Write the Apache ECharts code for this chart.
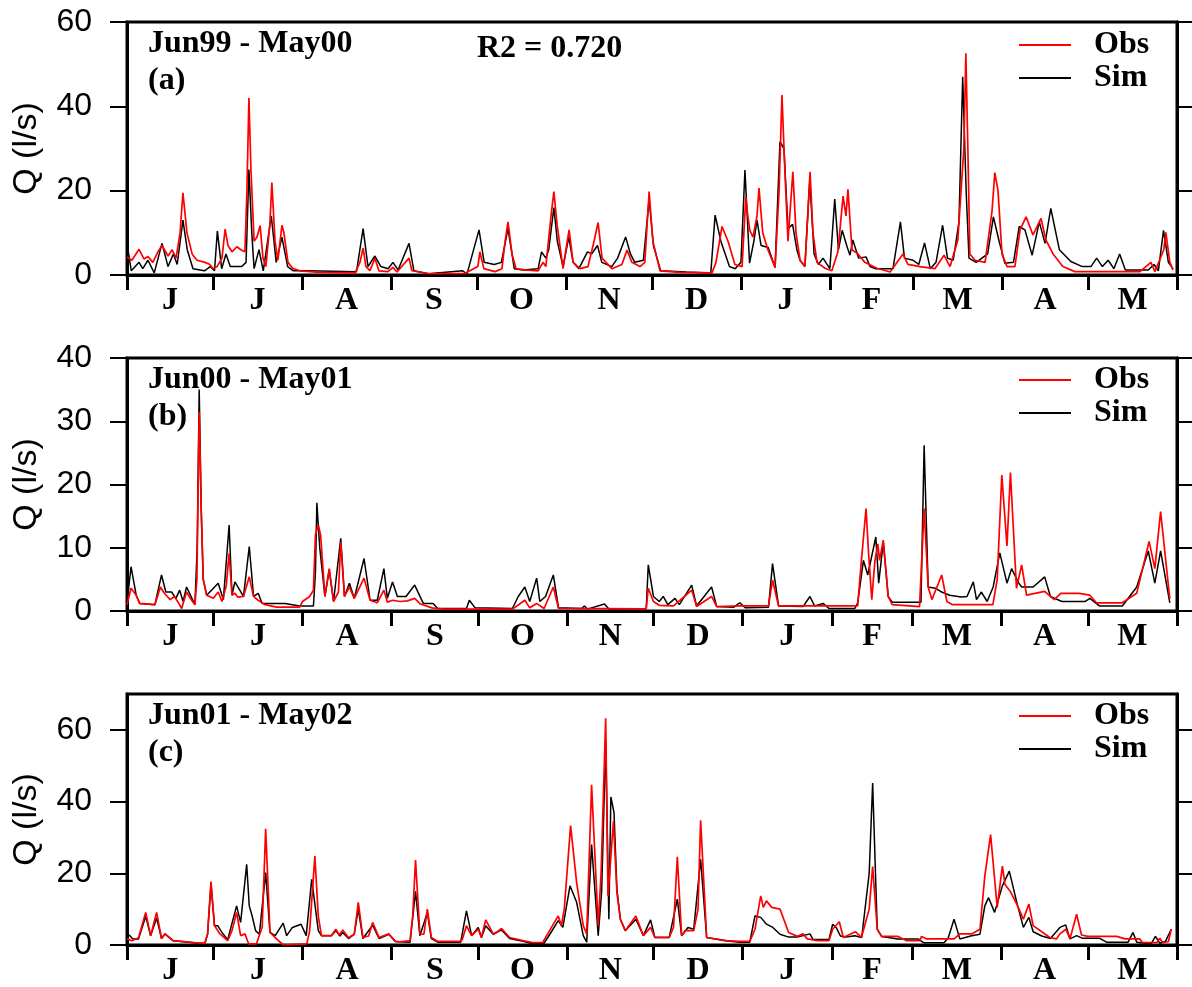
<!DOCTYPE html>
<html lang="en">
<head>
<meta charset="UTF-8">
<title>Q obs / sim</title>
<script src="https://cdn.jsdelivr.net/npm/echarts@6/dist/echarts.min.js"></script>
<style>
  html, body { margin: 0; padding: 0; background: #fff; }
  #main { width: 1192px; height: 987px; }
</style>
</head>
<body>
<div id="main"></div>
<script>
// month letters and month lengths (Jun..May)
var monthLetters = ['J', 'J', 'A', 'S', 'O', 'N', 'D', 'J', 'F', 'M', 'A', 'M'];
var monthDaysA = [30, 31, 31, 30, 31, 30, 31, 31, 29, 31, 30, 31];
var monthDaysBC = [30, 31, 31, 30, 31, 30, 31, 31, 28, 31, 30, 31];
var yTicksA = [0, 20, 40, 60];
var yTicksB = [0, 10, 20, 30, 40];
var yTicksC = [0, 20, 40, 60];

// daily discharge, [day, Q l/s]
var obsA = [[0,4.3],[1.7,3.5],[4.2,6.1],[5.9,3.8],[7.3,4.4],[9,3],[10.8,5.5],[12.2,7],[14.3,4.5],[15.7,6],[17.1,4],[18.5,10],[19.5,19.5],[20.9,10],[22.7,5],[24.4,3.5],[27.2,3],[28.9,2.5],[30,1.5],[31.4,2],[33.1,4],[34.2,10.9],[35.2,7],[36.6,5.5],[38.3,6.7],[39.7,6],[41.1,5.5],[41.8,20],[42.5,42],[43.2,25],[44.3,8],[45.3,9],[46.4,11.7],[47.4,4],[48.4,2],[49.8,12],[50.5,21.9],[51.6,8],[52.6,3.5],[54,11.8],[54.7,10],[56.1,3],[57.9,1.5],[60.3,1],[67.3,0.6],[79.5,0.5],[81.2,3],[82.3,6.4],[83.3,2],[84.7,1],[86.4,4],[87.8,1],[91,0.8],[92.7,1.8],[94.1,0.7],[98.3,4],[99.3,1],[105.6,0.3],[117.8,0.4],[122.3,2],[123,5.5],[124.4,1.5],[128.3,0.8],[130.7,1.5],[131.8,8],[132.8,12.6],[134.2,5],[135.6,1.5],[138.7,1.2],[143.3,1],[145,3],[146,2],[147.8,14],[148.8,19.8],[149.9,12],[152,1.5],[153,6],[154.1,10.7],[155.5,3],[157.9,1.5],[160.7,2],[162.8,8],[164.2,12.4],[165.6,4],[169,1.5],[172.5,2.5],[174.3,5.9],[176,3],[178.8,2],[180.5,3],[182,19.8],[183.3,8],[185.8,1],[192.7,0.6],[203.9,0.5],[205.3,3],[207.4,11.5],[209.5,8],[211.9,2.5],[214.4,2],[215.7,18.6],[216.4,14],[217.1,10.6],[218.2,9],[219.6,14],[220.3,20.6],[221.6,10],[223.4,6],[225.9,1.8],[227.3,20],[228.3,42.7],[229.3,25],[230.4,8],[232.1,24.5],[233.2,10],[234.6,3.5],[236.3,2],[238.1,24.5],[239.1,10],[240.5,3],[243.3,1.6],[245.7,1],[247.8,5.5],[249.6,18.7],[250.6,14],[251.3,20.3],[252.7,6],[254.8,5],[257.2,3],[261.4,1.6],[266,0.7],[270.5,5],[272.2,2.5],[276.4,2],[281.6,1.5],[284.8,4.7],[286.9,2],[289.6,8.3],[291.7,30],[292.4,52.6],[293.1,30],[293.8,5],[295.6,3.5],[299.1,3],[301.5,15],[302.5,24.3],[303.6,20],[305,5],[306.7,2],[309.5,2],[311.3,10.7],[313.4,13.8],[315.8,9.5],[318.6,13.4],[320.3,8.3],[322.8,5],[326.2,2],[330.4,0.8],[353.1,0.8],[356.9,3],[358.3,0.8],[361.4,6],[362.1,10.1],[363.5,3],[364.6,1.2]];
var simA = [[0,7.5],[1.5,1],[4.2,3],[5.5,1.5],[7.3,3.5],[9.5,0.5],[12.2,7.5],[14.3,2],[16.2,5],[17.5,2.5],[19.5,13],[21,6],[23,1.5],[27,1],[29,2],[30.5,1],[31.5,10.4],[33,1.5],[34.5,5],[36,2],[40,2],[41.5,3],[42.5,25],[43.5,10],[44.3,1.5],[46,6],[47.5,1],[50.3,14],[52,3],[54,9],[56,2],[58,1],[63,1],[80,0.8],[82.3,11],[84,2],[86.4,4.5],[88.5,2],[91,1.5],[92.7,3],[94.5,1.2],[98.3,7.5],[100,1],[105,0.3],[117,1],[118.5,0.2],[122.7,10.7],[124.5,3],[128,2.5],[130.5,3],[132.8,11],[135,1.5],[138,1.2],[143.3,1.5],[144.5,5.5],[146,4],[147,6],[148.8,16],[150,8],[152,2],[154,9],[155.5,3],[157.5,1.5],[160.5,5.5],[162,5],[164,7],[165.5,3],[169,2],[171,4],[173.8,9],[175.5,5],[177,3],[180,3.5],[182,18],[183.5,7],[186,1],[195,0.7],[203.5,0.5],[205,14.2],[207,8],[210,2],[212,1.5],[214,3],[215.4,24.9],[217,2.8],[218.5,8],[219.6,13],[221,7],[223.5,6.5],[225.9,1.8],[227.6,31.6],[229,30],[230.4,11],[232,12],[233.5,6],[234.6,3.5],[236.3,2],[238,22.5],[239.5,5],[241,2.5],[242.6,4],[245,1.5],[246.7,18],[248,6],[249.3,10.6],[251,6.7],[252,4.7],[253,8.3],[255,4],[257.6,4.3],[259,2],[261,1.5],[267,1.5],[269.6,12.6],[271,4],[274,3.5],[276,2.5],[278,7.6],[280,1.5],[282,3],[284.3,11.8],[286,4],[288,3.5],[290,12.6],[291.3,47],[292.5,20],[293.5,4],[296,3],[300,5],[302,13.8],[304,8],[306,2.8],[309,3],[311,11.5],[313,10.7],[315.5,4.7],[318,12.6],[320,7.5],[322,15.8],[325,6],[329,3.2],[333,2],[336,2],[338,4],[340,2],[342,3.5],[344,1.5],[346,5],[348,1.2],[356,1.2],[358,2.5],[359.5,1],[361.3,10.6],[363,3],[364.6,1.5]];

var obsB = [[0,1],[1.4,3.6],[3.2,2.5],[4.4,1.2],[9.7,1],[11.6,3.8],[13,2.8],[15,1.8],[16.5,2.3],[18,1.2],[19,0.4],[20.7,3],[22,2],[23.6,1],[24.3,5],[25.1,31.5],[25.8,16],[26.5,5],[27.7,2.5],[30,2],[31.7,3],[33,1.5],[34.5,4],[35.5,9.1],[36.5,2.5],[37.5,2.8],[38.5,2.2],[40.5,2.3],[42.5,5.4],[44,2.3],[45.6,1.7],[48,1],[52,0.6],[60,0.6],[61,1.5],[63.5,2.3],[64.8,3.3],[65.5,12],[66.5,13.6],[67.3,12],[68.8,2.3],[70.3,6.7],[71.8,1.5],[73.5,3],[74.3,10.9],[75.6,2.3],[77.3,3.8],[79,2],[82.4,5.2],[84.5,1.7],[87,1.3],[89.3,3.3],[90.5,1.4],[92.3,1.7],[95,1.5],[97.5,1.6],[100,2],[102,1.1],[106,0.5],[110,0.3],[134,0.3],[138.3,1.7],[140,0.5],[142.4,1.2],[145,0.4],[148.2,3.8],[150,0.4],[180.5,0.35],[181.2,3.6],[183,1.5],[185,0.9],[190,0.8],[196.3,3.3],[198,0.7],[203.2,2.3],[205,0.7],[213,0.8],[223,0.8],[224.4,4.9],[226.5,0.8],[254,0.8],[255.3,8],[256.9,16.2],[257.8,9],[258.9,1.8],[260,8],[261,10.6],[261.6,8],[262.9,11.2],[264.6,2.3],[266,1],[275.5,0.7],[277.1,16.2],[278.5,3.8],[279.8,1.8],[283.2,5.7],[285,1.5],[287,1],[301,1],[302.5,5],[304.1,21.5],[305.9,10.3],[307.1,21.9],[309.2,3.6],[311,7.3],[312.7,2.5],[319,3.1],[321,2.3],[322.3,1.8],[324.6,2.8],[331,2.8],[334.7,2.5],[337,1.3],[346,1.3],[351,2.8],[355.3,11],[357.3,6.7],[359.3,15.7],[362.5,1.9]];
var simB = [[0,1.2],[1.4,7],[3.2,2.5],[4.4,1.2],[9.7,1],[12,5.7],[13.5,3],[15.5,3],[17,2],[18.3,3.3],[19.5,1.5],[20.7,3.8],[23.6,1],[24.4,10],[25.1,35],[25.8,16],[26.5,5],[27.7,2.5],[31.7,4.4],[33.5,1.8],[35.5,13.6],[36.5,2.5],[37.5,4.6],[40.5,2.3],[42.5,10.2],[44,2.3],[45.6,2.8],[47,1.2],[55,1.2],[60,0.8],[64.8,0.8],[65.5,6],[66,17.1],[67,10],[68.8,2.3],[70.3,6.5],[71.8,1.5],[74.3,11.5],[75.6,2.3],[77.3,4.4],[79,2],[82.4,8.3],[84.5,1.7],[87,1.7],[89.3,6.7],[90.5,2],[92.3,4.6],[94,2.3],[97,2.3],[100,4.1],[103,1.2],[106.4,1.2],[108,0.4],[118,0.4],[119,1.7],[121,0.5],[134,0.4],[136,2.3],[138.3,3.8],[140,1.5],[142.4,5.2],[143.5,1.5],[145.5,2.3],[148.2,5.7],[150,0.5],[158,0.4],[159,0.8],[160,0.3],[166,1.1],[167.5,0.3],[180.5,0.35],[181.2,7.3],[183,2.3],[185,1.5],[186.4,2.3],[188,1],[190.5,2],[192,1],[196.3,4.1],[198,0.8],[203.2,3.8],[205,0.7],[211,0.6],[213,1.3],[215,0.5],[223,0.6],[224.4,7.5],[226.5,0.8],[235,0.7],[237.4,2.3],[239,0.8],[242,1.2],[244,0.4],[253,0.4],[254,1.3],[256,8],[257.5,5.7],[260.3,11.7],[261.3,4.4],[262.9,10.9],[264.6,2.3],[266,1.4],[276,1.4],[277.1,26.2],[278.5,3.8],[281,3.6],[283.2,3],[286,2.5],[290,2.2],[292,2.3],[294.2,4.6],[295.3,1.8],[297,3],[299,1.5],[301.1,3.8],[303.4,9.2],[305.9,4.4],[307.5,6.7],[310,4.4],[311,3.8],[315,3.8],[319,5.4],[321,2.3],[325,1.5],[333,1.5],[334.7,2],[338,0.8],[346,0.8],[351,3.8],[355,9.5],[357.3,4.4],[359.3,9.5],[362.5,1.3]];

var obsC = [[0,1.7],[1.7,1.2],[4,2],[6.5,9.1],[8.2,2.6],[10.3,9.1],[12,1.8],[13.2,3.1],[16,1.2],[25,0.55],[27.1,0.55],[28,3],[29.2,17.7],[30.4,5.4],[32.2,3.2],[35,1.2],[36.5,4],[38.1,9.1],[39.5,2.6],[41,3.1],[42.3,0.3],[45,0.3],[47,5],[48.2,32.4],[49.7,3.5],[52,1.7],[54.3,0],[62.5,0.3],[63.5,4],[65.3,24.8],[66.5,8],[67.6,2.6],[71,2.6],[72.6,4.4],[73.8,2.8],[75,4.2],[77,2],[79,3],[80.4,11.9],[82,2.1],[84,2.5],[85.4,6.3],[87.6,2.1],[91,3.1],[93.3,1],[94.9,0.9],[98.4,1.2],[99.3,8],[100.3,23.7],[101.8,3.1],[103.2,3],[104.4,10],[105.8,2.1],[108,1],[116,1],[116.6,1.7],[118,5.4],[119.8,2.6],[122.1,4.4],[123.2,2.1],[124.7,7],[127.3,3.1],[128.7,3.7],[130.2,4.6],[133,2.1],[137.6,1.2],[141,0.7],[144.5,0.7],[146.9,4],[148.4,6.1],[149.9,8.1],[151,5.4],[152,10],[154.2,33.3],[156.3,17.4],[158.6,5.4],[159.8,3.1],[161.5,44.7],[163.8,5.4],[164.8,20],[166.4,63.2],[167.2,13.7],[169.1,34.5],[170.3,14.6],[171.5,7.2],[173.2,4],[176.9,8.1],[179.5,2.6],[182,4.9],[183.5,2.1],[188.5,2.1],[190,5],[191.3,24.6],[192.8,2.6],[194,4],[197,4],[198.5,10],[199.4,34.8],[201.5,2.1],[208.4,1.2],[213,1],[216.5,1],[218.3,4.4],[220.3,13.7],[221.2,10.5],[222.3,12.3],[224.1,10.5],[227,10],[230,3.5],[233,2.4],[235,3.1],[236.5,1.7],[240,1.2],[244,1.2],[245.3,4.4],[247.6,6.5],[249,2.1],[253.2,3.7],[255.3,2.1],[258,10],[259.2,21.9],[260.8,4.4],[262.3,2.4],[268,2.4],[271,1.2],[275.6,1.2],[276.2,2.4],[278,1.7],[287.5,1.7],[289.5,3.1],[293.6,3.1],[296.5,4.4],[298.2,19.3],[300.2,30.8],[302.5,10.5],[304.3,22],[305.2,16.9],[307,15],[309.3,11.4],[311.6,7.2],[313.5,11.4],[315,5.4],[320.8,2.1],[323.1,1.7],[324.3,3.1],[326.4,4.4],[327.8,1.7],[330.1,8.6],[331.8,2.8],[334,2.4],[344,2.4],[347,1.7],[352,1.7],[353,0.7],[358,0.7],[359,1.9],[360,0.7],[362,0.9],[363,4.4]];
var simC = [[0,3.1],[1,2.6],[2,1.7],[4,1.7],[6.5,8],[8.2,2.6],[10.3,7.5],[12,1.8],[13.2,3.1],[16,1.2],[25,0.5],[27.1,0.5],[28,3],[29.2,17],[30.4,5.4],[31.5,5.4],[33,3.5],[35,1.5],[38.1,10.9],[39.5,6.3],[41.6,22.5],[42.5,10.9],[43.5,8.1],[44.7,4],[46,3],[48.2,20.2],[49.7,3.5],[51.5,2.6],[54.3,6.1],[55.5,2.6],[57.5,4.9],[60.5,5.8],[62.3,2.6],[64.2,18.3],[66.5,4],[67.6,2.6],[71,2.6],[72.6,4],[74,2.5],[75,3.5],[77,1.8],[79,3],[80.4,10],[82,1.8],[85.4,5.5],[87.6,1.8],[91,3],[93.3,1],[98.4,0.8],[100.3,15],[101.8,2.6],[104.4,9],[105.8,1.8],[108,0.8],[116,0.8],[118,9.5],[119.8,2.6],[122.1,4.9],[123.2,2.1],[124.7,5.4],[127.3,3],[130.2,4.2],[133,1.8],[138,1],[141.5,0.3],[145,0.5],[147,3],[149.9,6.8],[151.5,4.9],[154,16.5],[156.3,11.9],[158.6,2.6],[159.8,0.8],[161.5,28],[163.8,2.6],[165,15],[166.4,57],[167.5,7.2],[168.2,41.3],[169.3,36.9],[170.3,15.6],[171.5,7.2],[173.2,4],[176.9,7.2],[179.5,2.6],[182,7],[183.5,2.1],[188.5,2.1],[191.3,12.8],[192.8,2.6],[195,4.9],[197,4.4],[199.4,23.9],[201.5,2.1],[208,1.2],[213,0.8],[216.5,0.8],[218.3,8.1],[220.3,7.7],[222.3,5.8],[224.5,4.9],[227,3],[230,2.2],[233,2.2],[237.4,3.1],[238.5,1.5],[244,1.5],[245.3,5.8],[246.5,4.9],[248,2.5],[250,2.2],[253,2.6],[255.4,2.1],[258,20],[259.2,45.2],[260.8,4.4],[262.3,2.4],[268,1.7],[275,1.7],[277,0.6],[284,0.6],[285.5,2],[287.5,7.2],[289.5,1.7],[293.6,2.6],[296.5,3],[298.2,10.9],[299.5,13.2],[301.6,9.1],[304.3,16.5],[306.7,20.6],[309.3,11.9],[311.6,4.9],[313.5,7.7],[315,3.7],[318,2.5],[321,1.8],[324.3,4.9],[326.3,5.6],[327.8,1.7],[330.1,2.6],[332,1.9],[338,1.9],[340.5,0.8],[348,0.8],[349.7,3.5],[351,0.8],[356,0.3],[357.5,2.4],[359,0.5],[361,1],[363,4.4]];

var serif = 'Liberation Serif, Times New Roman, serif';
var sans = 'Liberation Sans, Arial, sans-serif';

function monthBounds(days) {
  var b = [0], s = 0;
  for (var i = 0; i < days.length; i++) { s += days[i]; b.push(s); }
  return b;
}
function monthMids(days) {
  var b = monthBounds(days), m = [];
  for (var i = 0; i < days.length; i++) m.push((b[i] + b[i + 1]) / 2);
  return m;
}

var panels = [
  { top: 22,  height: 253, ymax: 60, ticks: yTicksA, days: monthDaysA,  obs: obsA, sim: simA, title: 'Jun99 - May00\n(a)', legendTop: 29 },
  { top: 358, height: 253, ymax: 40, ticks: yTicksB, days: monthDaysBC, obs: obsB, sim: simB, title: 'Jun00 - May01\n(b)', legendTop: 364 },
  { top: 694, height: 252, ymax: 70, ticks: yTicksC, days: monthDaysBC, obs: obsC, sim: simC, title: 'Jun01 - May02\n(c)', legendTop: 700 }
];

var option = {
  animation: false,
  backgroundColor: '#fff',
  grid: [], xAxis: [], yAxis: [], series: [], legend: [], title: []
};

panels.forEach(function (p, i) {
  var bounds = monthBounds(p.days);
  var mids = monthMids(p.days);
  var total = bounds[bounds.length - 1];

  option.grid.push({
    left: 127, width: 1050, top: p.top, height: p.height,
    show: true, borderColor: '#000', borderWidth: 3
  });
  option.xAxis.push({
    type: 'value', gridIndex: i, min: 0, max: total,
    axisLine: { lineStyle: { color: '#000', width: 3 } },
    axisTick: { customValues: bounds, length: 15, lineStyle: { color: '#000', width: 3 } },
    axisLabel: {
      customValues: mids, margin: 10, color: '#000',
      fontFamily: serif, fontWeight: 'bold', fontSize: 32,
      formatter: function (v) { return monthLetters[mids.indexOf(v)] || ''; }
    },
    splitLine: { show: false }
  });
  option.yAxis.push({
    type: 'value', gridIndex: i, min: 0, max: p.ymax, position: 'left',
    name: 'Q (l/s)', nameLocation: 'middle', nameGap: 83,
    nameTextStyle: { fontFamily: sans, fontSize: 34, color: '#000' },
    axisLine: { show: true, lineStyle: { color: '#000', width: 3 } },
    axisTick: { customValues: p.ticks, length: 17, lineStyle: { color: '#000', width: 2 } },
    axisLabel: { customValues: p.ticks, margin: 35, color: '#000', fontFamily: sans, fontSize: 32 },
    splitLine: { show: false }
  });
  option.yAxis.push({
    type: 'value', gridIndex: i, min: 0, max: p.ymax, position: 'right',
    axisLine: { show: true, lineStyle: { color: '#000', width: 3 } },
    axisTick: { customValues: p.ticks, length: 15, lineStyle: { color: '#000', width: 2 } },
    axisLabel: { show: false },
    splitLine: { show: false }
  });
  option.series.push({
    name: 'Sim', type: 'line', xAxisIndex: i, yAxisIndex: i * 2,
    data: p.sim, symbol: 'none', lineStyle: { color: '#000', width: 1.5 },
    itemStyle: { color: '#000' }
  });
  option.series.push({
    name: 'Obs', type: 'line', xAxisIndex: i, yAxisIndex: i * 2,
    data: p.obs, symbol: 'none', lineStyle: { color: '#ff0000', width: 1.7 },
    itemStyle: { color: '#ff0000' }
  });
  option.legend.push({
    data: ['Obs', 'Sim'], orient: 'vertical', left: 1019, top: p.legendTop,
    icon: 'rect', itemWidth: 52, itemHeight: 2, itemGap: 1, padding: 0,
    textStyle: { fontFamily: serif, fontWeight: 'bold', fontSize: 32, color: '#000',
                 lineHeight: 30, padding: [0, 0, 0, 18] }
  });
  option.title.push({
    text: p.title, left: 148, top: p.top + 3, padding: 0,
    textStyle: { fontFamily: serif, fontWeight: 'bold', fontSize: 32, color: '#000', lineHeight: 37 }
  });
});

option.title.push({
  text: 'R2 = 0.720', left: 477, top: 33, padding: 0,
  textStyle: { fontFamily: serif, fontWeight: 'bold', fontSize: 32, color: '#000' }
});

var chart = echarts.init(document.getElementById('main'));
chart.setOption(option);
</script>
</body>
</html>
